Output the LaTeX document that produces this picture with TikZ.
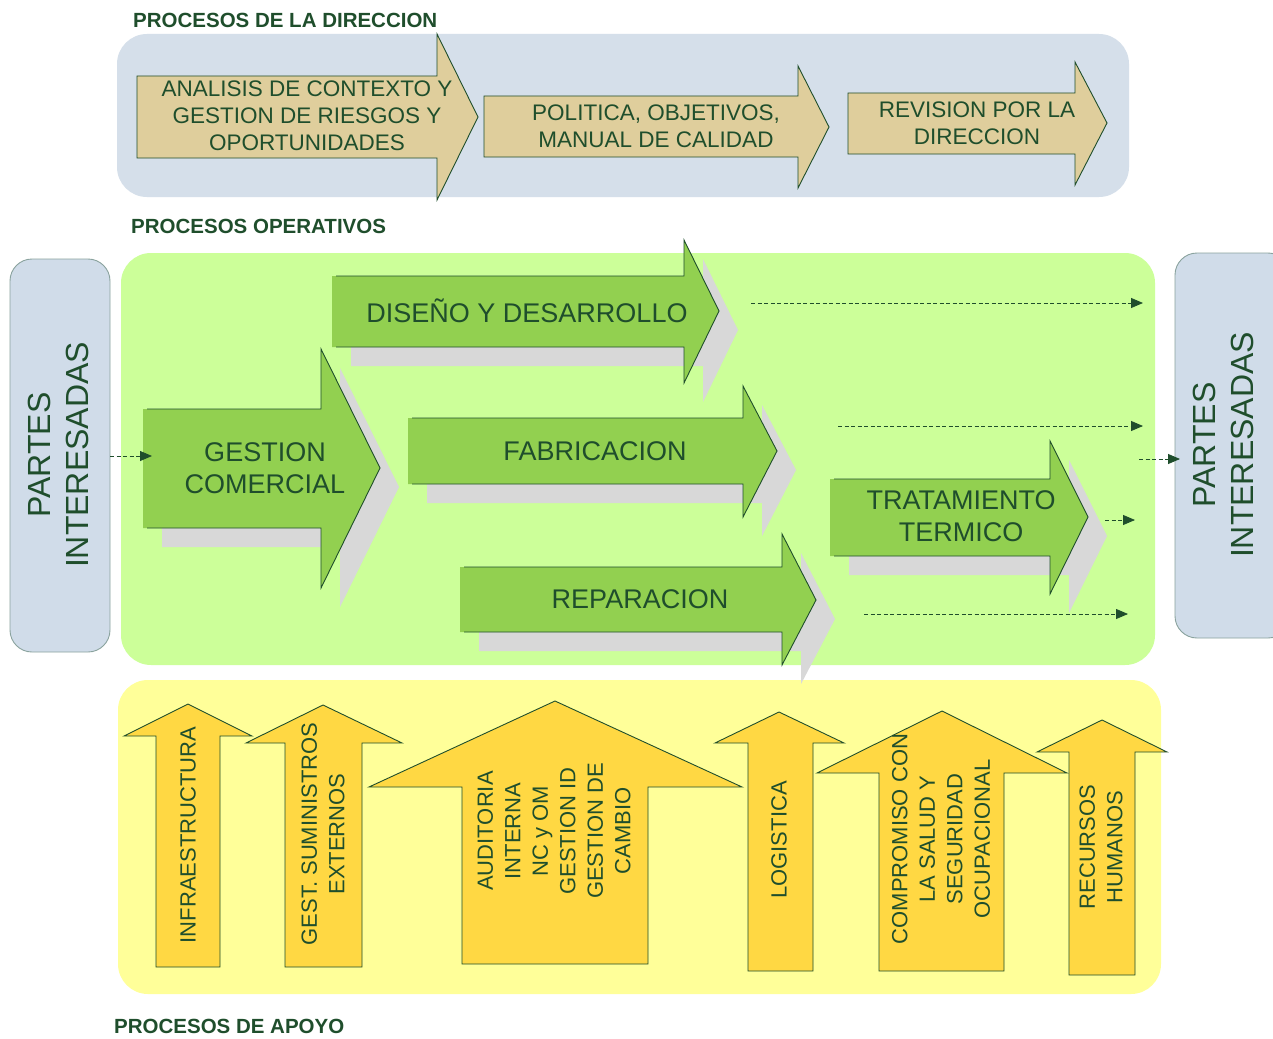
\documentclass[tikz,border=0pt]{standalone}
\usepackage{fontspec}
\setmainfont{Liberation Sans}
\usetikzlibrary{arrows.meta}
\definecolor{dgreen}{HTML}{1F4E2C}
\definecolor{bluepanel}{HTML}{D5DFEA}
\definecolor{tanfill}{HTML}{DFCE9C}
\definecolor{greenpanel}{HTML}{CCFF99}
\definecolor{greenarrow}{HTML}{92D050}
\definecolor{shadowgray}{HTML}{D8D8D8}
\definecolor{yellowpanel}{HTML}{FFFF99}
\definecolor{yellowarrow}{HTML}{FFD843}
\definecolor{partesfill}{HTML}{D0DCE9}
\definecolor{partesline}{HTML}{8AA39E}
% L H BT BB HT HB TX TY
\newcommand\GArrowShape[8]{%
  \fill[shadowgray] (#1+19,#3+19) -- (#2+19,#3+19) -- (#2+19,#5+19) -- (#7+19,#8+19) -- (#2+19,#6+19) -- (#2+19,#4+19) -- (#1+19,#4+19) -- cycle;
  \fill[greenarrow] (#1,#3) -- (#2,#3) -- (#2,#5) -- (#7,#8) -- (#2,#6) -- (#2,#4) -- (#1,#4) -- cycle;
  \draw[outl] (#1+4,#3) -- (#2,#3) -- (#2,#5) -- (#7,#8) -- (#2,#6) -- (#2,#4) -- (#1+4,#4);
}
\newcommand\TArrowShape[8]{%
  \draw[outl, fill=tanfill] (#1,#3) -- (#2,#3) -- (#2,#5) -- (#7,#8) -- (#2,#6) -- (#2,#4) -- (#1,#4) -- cycle;
}
% SL SR B HB WL WR TX TY
\newcommand\UArrowShape[8]{%
  \draw[outl, fill=yellowarrow] (#1,#3) -- (#1,#4) -- (#5,#4) -- (#7,#8) -- (#6,#4) -- (#2,#4) -- (#2,#3) -- cycle;
}
\tikzset{
  outl/.style={draw=dgreen, line width=0.9pt, line join=miter},
  lbl/.style={text=dgreen, align=center, inner sep=0pt},
  titlefont/.style={font=\fontsize{20.5}{24}\selectfont\bfseries},
  tanfont/.style={font=\fontsize{22.5}{27}\selectfont},
  opfont/.style={font=\fontsize{27}{32}\selectfont},
  partesfont/.style={font=\fontsize{32}{38}\selectfont},
  supfont/.style={font=\fontsize{22}{27.5}\selectfont},
  flow/.style={draw=dgreen, line width=0.8pt, dash pattern=on 4pt off 2.5pt, -{Triangle[length=12pt,width=10pt]}},
}
\begin{document}
\begin{tikzpicture}[x=1pt,y=-1pt]
\useasboundingbox (0,0) rectangle (1273,1038);
\fill[white] (0,0) rectangle (1273,1038);

% ---------- panels ----------
\fill[bluepanel, rounded corners=30pt] (117,34) rectangle (1129,197);
\fill[greenpanel, rounded corners=30pt] (121,253) rectangle (1155,665);
\fill[yellowpanel, rounded corners=30pt] (118,680) rectangle (1161,994);
\draw[partesline, fill=partesfill, line width=0.9pt, rounded corners=22pt] (10,259) rectangle (110,652);
\draw[partesline, fill=partesfill, line width=0.9pt, rounded corners=22pt] (1175,253) rectangle (1290,638);

% ---------- titles ----------
\node[lbl, titlefont, anchor=west] (tdir) at (133,20) {PROCESOS DE LA DIRECCION};
\node[lbl, titlefont, anchor=west] (top) at (131,226) {PROCESOS OPERATIVOS};
\node[lbl, titlefont, anchor=west] (tapo) at (114,1026) {PROCESOS DE APOYO};

% ---------- direccion ----------
\TArrowShape{137}{437}{76}{158}{34}{200}{478}{117}
\node[lbl, tanfont] (analisis) at (307,116) {ANALISIS DE CONTEXTO Y\\GESTION DE RIESGOS Y\\OPORTUNIDADES};
\TArrowShape{484}{798}{96}{157}{66}{188}{829}{127}
\node[lbl, tanfont] (politica) at (656,126) {POLITICA, OBJETIVOS,\\MANUAL DE CALIDAD};
\TArrowShape{848}{1075}{93}{154}{62}{185}{1107}{123}
\node[lbl, tanfont] (revision) at (977,123) {REVISION POR LA\\DIRECCION};

% ---------- operativos ----------
\node[lbl, partesfont, rotate=90] (pin) at (58,455) {PARTES\\INTERESADAS};
\node[lbl, partesfont, rotate=90] (pout) at (1223,445) {PARTES\\INTERESADAS};

\GArrowShape{332}{684}{276}{347}{240}{383}{719}{311}
\node[lbl, opfont] (diseno) at (527,311) {DISEÑO Y DESARROLLO};
\GArrowShape{143}{321}{409}{528}{349}{588}{380}{468}
\node[lbl, opfont] (gestion) at (265,468) {GESTION\\COMERCIAL};
\GArrowShape{408}{743}{418}{484}{386}{517}{777}{451}
\node[lbl, opfont] (fabric) at (595,451) {FABRICACION};
\GArrowShape{460}{782}{567}{632}{534}{665}{816}{600}
\node[lbl, opfont] (repar) at (640,599) {REPARACION};
\GArrowShape{830}{1050}{479}{556}{441}{594}{1088}{517}
\node[lbl, opfont] (tratam) at (961,516) {TRATAMIENTO\\TERMICO};

% dashed flows
\coordinate (f0s) at (110,456);  \coordinate (f0e) at (152,456);
\coordinate (f1s) at (751,303);  \coordinate (f1e) at (1143,303);
\coordinate (f2s) at (838,426);  \coordinate (f2e) at (1143,426);
\coordinate (f3s) at (1139,459); \coordinate (f3e) at (1180,459);
\coordinate (f4s) at (1105,520); \coordinate (f4e) at (1135,520);
\coordinate (f5s) at (864,614);  \coordinate (f5e) at (1128,614);
\draw[flow] (f0s) -- (f0e);
\draw[flow] (f1s) -- (f1e);
\draw[flow] (f2s) -- (f2e);
\draw[flow] (f3s) -- (f3e);
\draw[flow] (f4s) -- (f4e);
\draw[flow] (f5s) -- (f5e);

% ---------- apoyo ----------
\UArrowShape{156}{220}{967}{736}{124}{252}{188}{704}
\node[lbl, supfont, rotate=90] (infra) at (188,835) {INFRAESTRUCTURA};
\UArrowShape{285}{362}{967}{743}{246}{402}{323}{705}
\node[lbl, supfont, rotate=90] (sumin) at (323,834) {GEST. SUMINISTROS\\EXTERNOS};
\UArrowShape{462}{648}{964}{787}{369}{742}{555}{701}
\node[lbl, supfont, rotate=90] (audit) at (554,831) {AUDITORIA\\INTERNA\\NC y OM\\GESTION ID\\GESTION DE\\CAMBIO};
\UArrowShape{748}{813}{971}{743}{715}{844}{779}{712}
\node[lbl, supfont, rotate=90] (logis) at (779,840) {LOGISTICA};
\UArrowShape{879}{1004}{971}{773}{817}{1067}{942}{711}
\node[lbl, supfont, rotate=90] (compr) at (941,839) {COMPROMISO CON\\LA SALUD Y\\SEGURIDAD\\OCUPACIONAL};
\UArrowShape{1069}{1135}{975}{752}{1037}{1167}{1102}{720}
\node[lbl, supfont, rotate=90] (rrhh) at (1101,847) {RECURSOS\\HUMANOS};
\end{tikzpicture}
\end{document}
